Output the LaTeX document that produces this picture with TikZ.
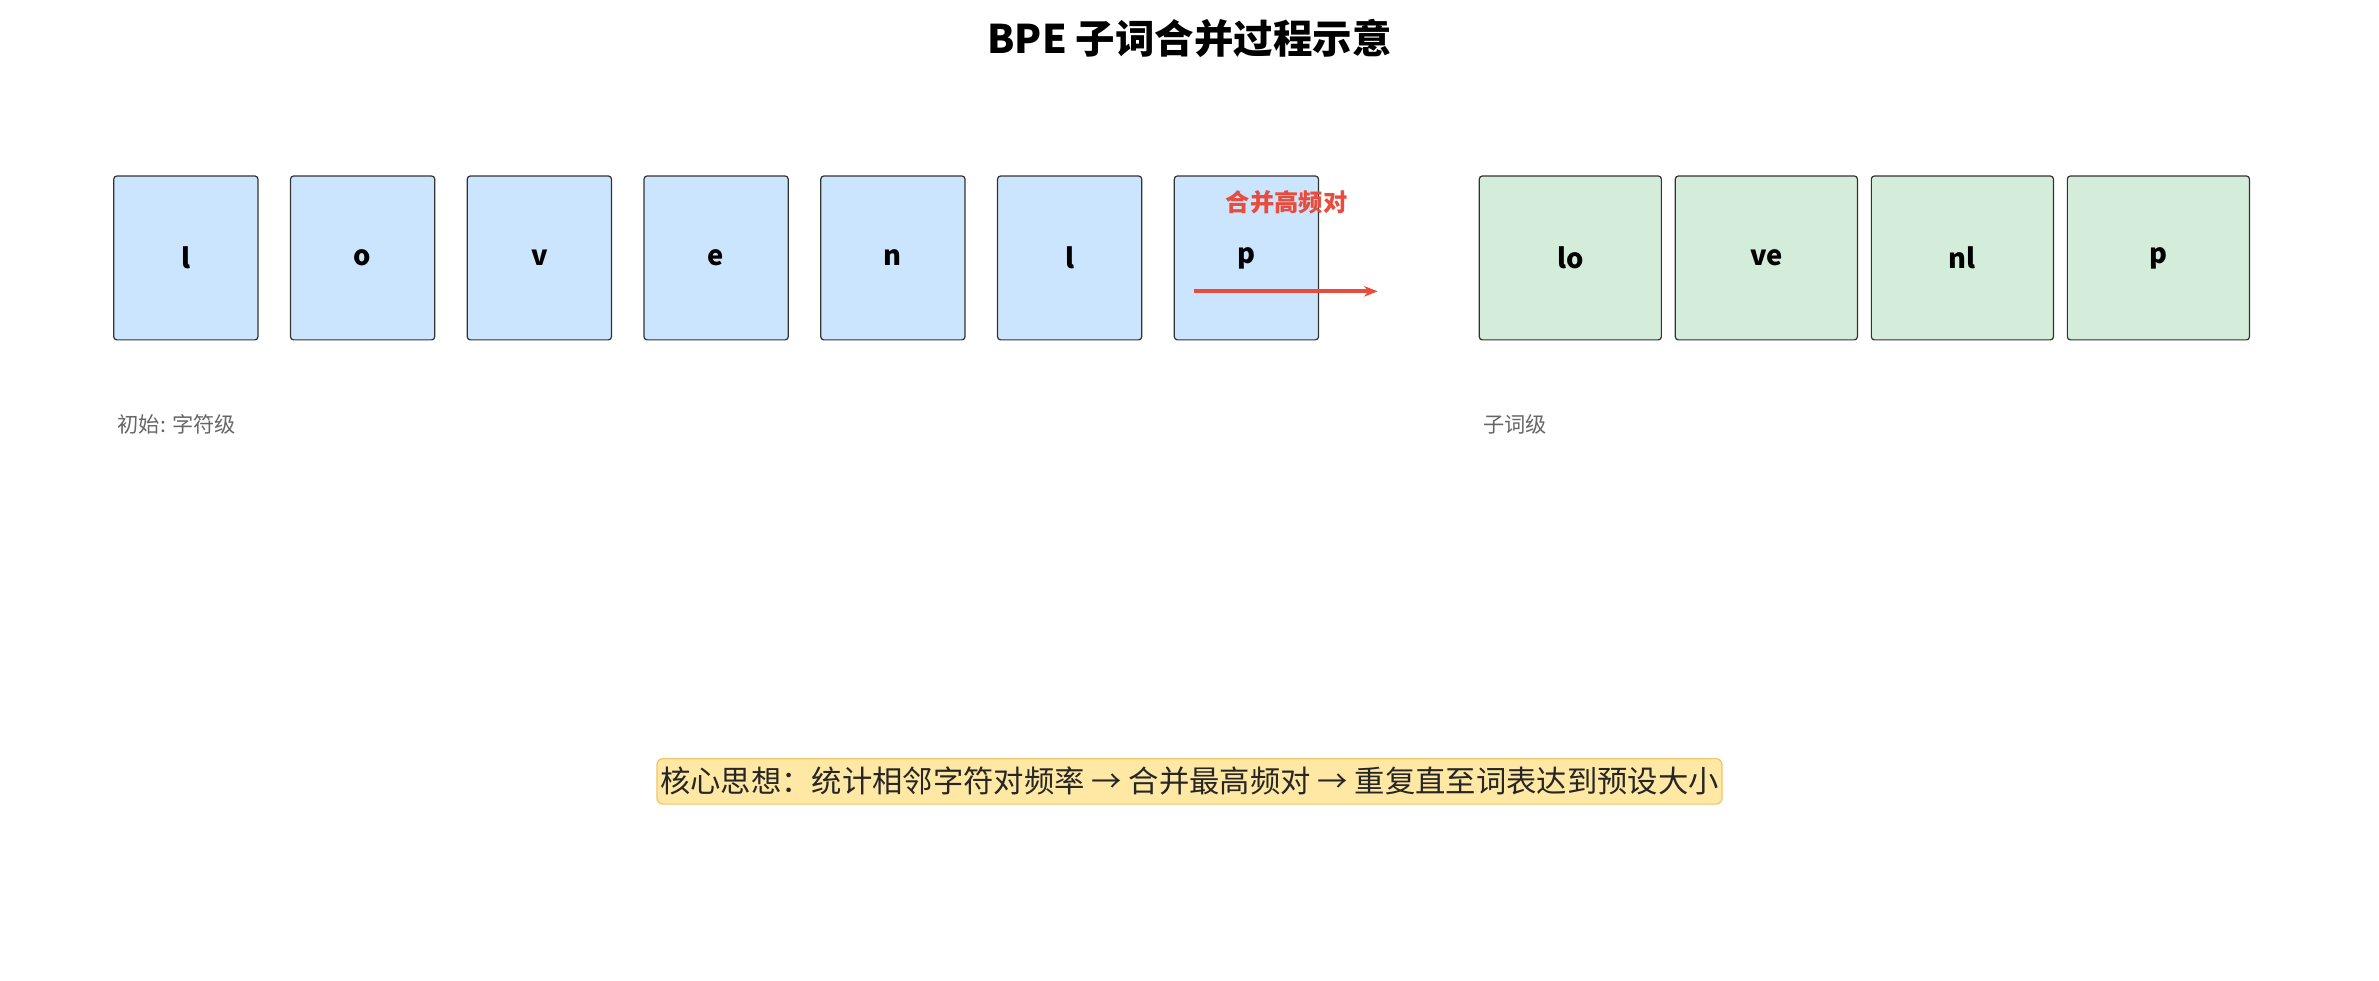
\documentclass[tikz,border=0pt]{standalone}
\usepackage{fontspec}
\setmainfont{Noto Sans CJK SC}
\usetikzlibrary{positioning}
\usetikzlibrary{arrows.meta}
\definecolor{charblue}{HTML}{CCE5FF}
\definecolor{subgreen}{HTML}{D4EDDA}
\definecolor{mergered}{HTML}{E74C3C}
\definecolor{notefill}{HTML}{FFE8A3}
\definecolor{noteline}{HTML}{F5C26B}
\tikzstyle{char} = [rectangle, rounded corners=2pt, draw=black!80, thick, fill=charblue,
                    minimum width=95pt, minimum height=108pt, font=\fontsize{18}{20}\selectfont\bfseries]
\tikzstyle{sub} = [rectangle, rounded corners=2pt, draw=black!80, thick, fill=subgreen,
                   minimum width=120pt, minimum height=108pt, font=\fontsize{18}{20}\selectfont\bfseries]
\tikzstyle{caption} = [anchor=west, text=black!60, font=\fontsize{14}{16}\selectfont]

\begin{document}
\begin{tikzpicture}[x=1pt,y=-1pt]
    \useasboundingbox (0,0) rectangle (1568,646);
    \node[font=\fontsize{26}{30}\selectfont\bfseries] (title) at (784,25) {BPE 子词合并过程示意};
    \node[char] (c1) at (122.5,170) {l};
    \node[char] (c2) [right=20.7pt of c1] {o};
    \node[char] (c3) [right=20.7pt of c2] {v};
    \node[char] (c4) [right=20.7pt of c3] {e};
    \node[char] (c5) [right=20.7pt of c4] {n};
    \node[char] (c6) [right=20.7pt of c5] {l};
    \node[char] (c7) [right=20.7pt of c6] {p};
    \node[sub] (s1) at (1035,170) {lo};
    \node[sub] (s2) [right=8.4pt of s1] {ve};
    \node[sub] (s3) [right=8.4pt of s2] {nl};
    \node[sub] (s4) [right=8.4pt of s3] {p};
    % merge arrow
    \coordinate (mstart) at (787,192);
    \coordinate (mend) at (908,192);
    \draw[-{Stealth[length=9pt,width=7pt]}, line width=2.5pt, mergered] (mstart) -- (mend);
    \node[text=mergered, font=\fontsize{16}{18}\selectfont\bfseries] (mlabel) at (848,133) {合并高频对};
    \node[caption] (lchar) at (74,280) {初始: 字符级};
    \node[caption] (lsub) at (974,280) {子词级};
    \node[draw=noteline, thick, fill=notefill, rounded corners=4pt, minimum width=654pt,
          minimum height=30pt, inner sep=2pt, font=\fontsize{20}{22}\selectfont, text=black!85]
          (note) at (784,515) {核心思想：统计相邻字符对频率 → 合并最高频对 → 重复直至词表达到预设大小};
\end{tikzpicture}
\end{document}
